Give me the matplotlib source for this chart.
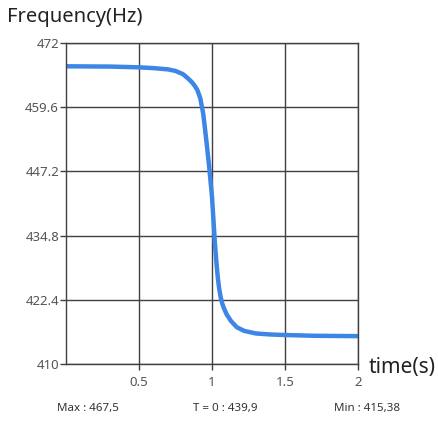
import matplotlib
matplotlib.use('Agg')
import matplotlib.pyplot as plt

plt.rcParams['font.family'] = ['Noto Sans', 'DejaVu Sans']

# frequency response (time in s, frequency in Hz)
t = [0, 0.3, 0.5, 0.6, 0.7, 0.75, 0.8, 0.83, 0.86, 0.88, 0.9, 0.92, 0.94,
     0.96, 0.98, 1.0, 1.01, 1.02, 1.03, 1.04, 1.05, 1.06, 1.07, 1.08, 1.1,
     1.13, 1.17, 1.22, 1.3, 1.4, 1.5, 1.7, 2.0]
freq = [467.5, 467.45, 467.3, 467.15, 466.9, 466.6, 466.0, 465.3, 464.5,
        463.8, 462.9, 461.3, 458.3, 453.5, 448.3, 442.3, 437.8, 433.3,
        429.7, 426.6, 424.4, 422.8, 421.7, 420.9, 419.6, 418.3, 417.1,
        416.4, 415.9, 415.7, 415.6, 415.45, 415.38]

y_ticks = [410, 422.4, 434.8, 447.2, 459.6, 472]
x_ticks = [0.5, 1, 1.5, 2]
summary = ['Max : 467,5', 'T = 0 : 439,9', 'Min : 415,38']

fig = plt.figure(figsize=(4.39, 4.26), dpi=100)
ax = fig.add_axes([66 / 439, 1 - 364 / 426, 292 / 439, 321 / 426])

ax.plot(t, freq, color='#3d86e6', lw=3.2, solid_capstyle='round',
        solid_joinstyle='round')

ax.set_xlim(0, 2)
ax.set_ylim(410, 472)
ax.set_xticks(x_ticks)
ax.set_xticklabels(['0.5', '1', '1.5', '2'])
ax.set_yticks(y_ticks)
ax.set_yticklabels(['410', '422.4', '434.8', '447.2', '459.6', '472'])
ax.grid(True, color='#404040', lw=1)
for s in ax.spines.values():
    s.set_color('#404040')
    s.set_linewidth(1)
ax.tick_params(direction='out', length=4, width=1, color='#404040',
               labelcolor='#555555', labelsize=9.5, pad=1)
ax.tick_params(axis='x', pad=5)

fig.text(7 / 439, 1 - 17 / 426, 'Frequency(Hz)', fontsize=14.5, va='center',
         ha='left', color='#222222')
fig.text(369 / 439, 1 - 368 / 426, 'time(s)', fontsize=15, va='center',
         ha='left', color='#222222')

for xc, s in zip([88, 225, 367], summary):
    fig.text(xc / 439, 1 - 408 / 426, s, fontsize=8.3, ha='center',
             va='center', color='#333333')

fig.savefig('out.png', dpi=100)
